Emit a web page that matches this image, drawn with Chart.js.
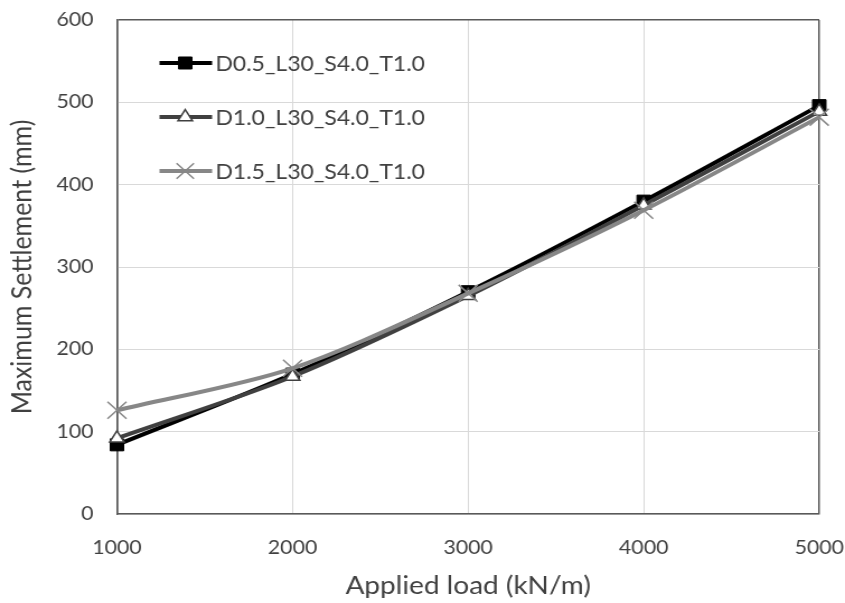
<!DOCTYPE html>
<html lang="en">
<head>
  <meta charset="UTF-8" />
  <title>Maximum Settlement</title>
  <style>
    html, body { margin: 0; padding: 0; background: #fff; }
    .wrap { width: 845px; height: 603px; overflow: hidden; }
    /* drawn a bit narrower, then widened to the page */
    #settleChart { display: block; width: 845px; height: 603px; }
  </style>
</head>
<body>
  <div class="wrap">
    <canvas id="settleChart" width="755" height="603" style="width:845px;height:603px"></canvas>
  </div>

  <script src="https://cdn.jsdelivr.net/npm/chart.js"></script>
  <script>
    const loads = [1000, 2000, 3000, 4000, 5000];
    const seriesNames = ["D0.5_L30_S4.0_T1.0", "D1.0_L30_S4.0_T1.0", "D1.5_L30_S4.0_T1.0"];
    const settleD05 = [84, 170, 270, 380, 496];
    const settleD10 = [92, 167, 265, 375, 489];
    const settleD15 = [126, 177, 268, 369, 482];

    const FONT = "Lato, 'Open Sans', sans-serif";
    const TXT = "#404040";

    function pts(vals) {
      return loads.map((x, i) => ({ x: x, y: vals[i] }));
    }

    // legend drawn inside the plot, each entry = line sample + marker + name
    const insideLegend = {
      id: "insideLegend",
      afterDraw(chart) {
        const ctx = chart.ctx;
        const area = chart.chartArea;
        const x0 = area.left + 38;
        chart.data.datasets.forEach((ds, i) => {
          const y = area.top + 43 + i * 54;
          ctx.save();
          ctx.strokeStyle = ds.borderColor;
          ctx.lineWidth = ds.borderWidth;
          ctx.beginPath();
          ctx.moveTo(x0, y);
          ctx.lineTo(x0 + 47, y);
          ctx.stroke();
          ctx.fillStyle = ds.pointBackgroundColor;
          ctx.strokeStyle = ds.pointBorderColor;
          ctx.lineWidth = ds.pointBorderWidth;
          Chart.helpers.drawPoint(ctx, {
            pointStyle: ds.pointStyle,
            rotation: 0,
            radius: ds.legendRadius,
            borderWidth: ds.pointBorderWidth
          }, x0 + 23, y);
          ctx.fillStyle = TXT;
          ctx.font = "20.5px " + FONT;
          ctx.textBaseline = "middle";
          ctx.fillText(ds.label, x0 + 50, y + 1);
          ctx.restore();
        });
      }
    };

    new Chart(document.getElementById("settleChart"), {
      type: "line",
      data: {
        datasets: [
          {
            label: seriesNames[0],
            data: pts(settleD05),
            borderColor: "#000000",
            borderWidth: 4,
            pointStyle: "rect",
            pointRadius: 8.5,
            legendRadius: 8.5,
            pointBackgroundColor: "#000000",
            pointBorderColor: "#000000",
            pointBorderWidth: 1,
            tension: 0.3,
            clip: false,
            order: 3
          },
          {
            label: seriesNames[1],
            data: pts(settleD10),
            borderColor: "#404040",
            borderWidth: 4,
            pointStyle: "triangle",
            pointRadius: 7.5,
            legendRadius: 7.5,
            pointBackgroundColor: "#ffffff",
            pointBorderColor: "#404040",
            pointBorderWidth: 1.5,
            tension: 0.3,
            clip: false,
            order: 2
          },
          {
            label: seriesNames[2],
            data: pts(settleD15),
            borderColor: "#878787",
            borderWidth: 4,
            pointStyle: "crossRot",
            pointRadius: 12,
            legendRadius: 11,
            pointBackgroundColor: "#878787",
            pointBorderColor: "#878787",
            pointBorderWidth: 1.5,
            tension: 0.3,
            clip: false,
            order: 1
          }
        ]
      },
      options: {
        responsive: false,
        animation: false,
        layout: { padding: { top: 20, right: 23, left: 0, bottom: 0 } },
        plugins: {
          legend: { display: false },
          tooltip: { enabled: false }
        },
        scales: {
          x: {
            type: "linear",
            min: 1000,
            max: 5000,
            afterFit(scale) {
              scale.height = 89;
              scale.paddingLeft = 0;
              scale.paddingRight = 0;
            },
            ticks: {
              stepSize: 1000,
              padding: 22,
              color: TXT,
              font: { family: FONT, size: 19 },
              callback: v => String(v)
            },
            grid: {
              drawTicks: false,
              color: ctx => (ctx.tick && (ctx.tick.value === 1000 || ctx.tick.value === 5000)) ? "#595959" : "#d9d9d9",
              lineWidth: ctx => (ctx.tick && (ctx.tick.value === 1000 || ctx.tick.value === 5000)) ? 1.5 : 1
            },
            border: { color: "#595959", width: 1.5 },
            title: {
              display: true,
              text: "Applied load (kN/m)",
              color: TXT,
              font: { family: FONT, size: 25 },
              padding: { top: 0, bottom: 2 }
            }
          },
          y: {
            min: 0,
            max: 600,
            afterFit(scale) {
              scale.width = 104.5;
              scale.paddingTop = 0;
              scale.paddingBottom = 0;
            },
            ticks: {
              stepSize: 100,
              padding: 21,
              color: TXT,
              font: { family: FONT, size: 19 }
            },
            grid: {
              drawTicks: false,
              color: ctx => (ctx.tick && ctx.tick.value === 600) ? "#595959" : "#d9d9d9",
              lineWidth: ctx => (ctx.tick && ctx.tick.value === 600) ? 1.5 : 1
            },
            border: { color: "#595959", width: 1.5 },
            title: {
              display: true,
              text: "Maximum Settlement (mm)",
              color: TXT,
              font: { family: FONT, size: 25 },
              padding: { top: 5, bottom: 0 }
            }
          }
        }
      },
      plugins: [insideLegend]
    });
  </script>
</body>
</html>
